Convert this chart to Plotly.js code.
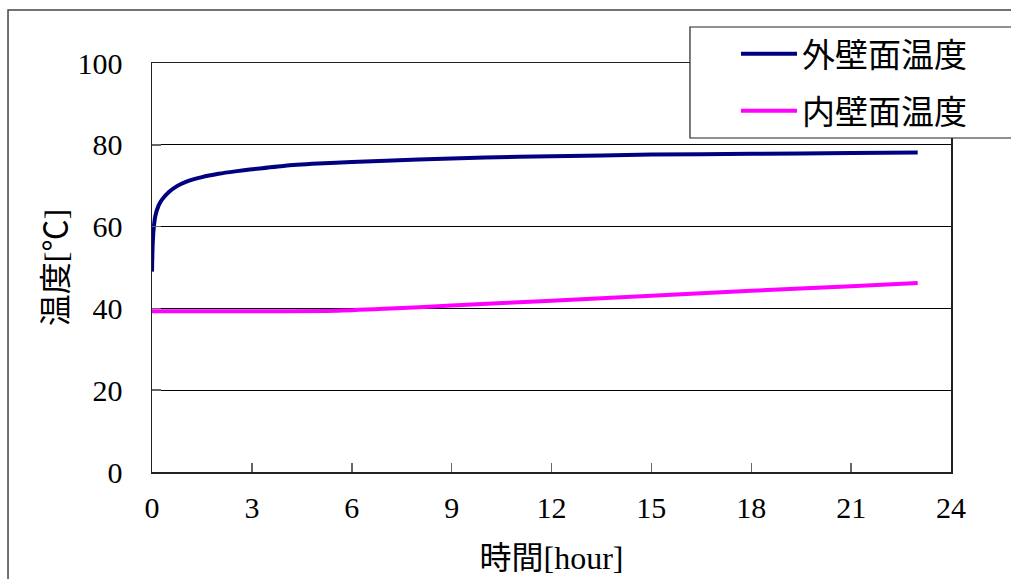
<!DOCTYPE html>
<html>
<head>
<meta charset="utf-8">
<script src="https://cdn.plot.ly/plotly-3.0.1.min.js"></script>
<style>html,body{margin:0;padding:0;background:#fff;}#chart{width:1011px;height:579px;}</style>
</head>
<body>
<div id="chart"></div>
<script>
// Data
const outerHours = [0, 0.02, 0.05, 0.1, 0.2, 0.3, 0.5, 0.75, 1, 1.5, 2, 2.5, 3, 4, 5, 6, 8, 10, 12, 15, 18, 21, 23];
const outerTemp  = [49, 55.5, 59.5, 62.6, 65.2, 66.6, 68.4, 69.9, 70.9, 72.1, 72.9, 73.5, 74.0, 74.9, 75.4, 75.8, 76.4, 76.9, 77.2, 77.6, 77.8, 78.0, 78.1];
const innerHours = [0, 2, 4, 5.5, 7, 9, 12, 15, 18, 21, 23];
const innerTemp  = [39.3, 39.3, 39.3, 39.4, 39.9, 40.7, 41.9, 43.1, 44.3, 45.4, 46.2];
const seriesNames = ['外壁面温度', '内壁面温度'];
const xTicks = [0, 3, 6, 9, 12, 15, 18, 21, 24];
const yTicks = [0, 20, 40, 60, 80, 100];
const xTitle = '時間[hour]';
const yTitle = '温度[℃]';

const FONT = "'Liberation Serif', 'Noto Sans CJK JP', serif";

const traces = [
  {x: outerHours, y: outerTemp, name: seriesNames[0], type: 'scatter', mode: 'lines',
   line: {color: '#000080', width: 4, shape: 'spline', smoothing: 0.6}, legendgroup: 'a'},
  {x: innerHours, y: innerTemp, name: seriesNames[1], type: 'scatter', mode: 'lines',
   line: {color: '#FF00FF', width: 4, shape: 'spline', smoothing: 0.6}, legendgroup: 'b'}
];

const layout = {
  width: 1011, height: 579,
  paper_bgcolor: '#fff', plot_bgcolor: '#fff',
  margin: {l: 152, r: 60, t: 63, b: 107, pad: 0},
  font: {family: FONT, size: 30, color: '#000'},
  showlegend: true,
  legend: {
    x: 0.7309, y: 1.091, xanchor: 'left', yanchor: 'top',
    bgcolor: 'rgba(0,0,0,0)', borderwidth: 0,
    font: {family: FONT, size: 33, color: '#000'},
    itemwidth: 56, tracegroupgap: 11
  },
  xaxis: {
    range: [0, 24], tickvals: xTicks, ticktext: xTicks.map(String),
    showgrid: false, zeroline: false,
    showline: true, linecolor: '#222', linewidth: 1.5, mirror: true,
    ticks: 'inside', ticklen: 9, tickcolor: '#666', tickwidth: 1.5,
    ticklabelstandoff: 8,
    tickfont: {family: FONT, size: 30, color: '#000'},
    title: {text: xTitle, font: {family: FONT, size: 32, color: '#000'}, standoff: 24},
    automargin: false
  },
  yaxis: {
    range: [0, 100], tickvals: yTicks, ticktext: yTicks.map(String),
    showgrid: true, gridcolor: '#000', gridwidth: 1, zeroline: false,
    showline: true, linecolor: '#222', linewidth: 1.5, mirror: true,
    ticks: 'inside', ticklen: 9, tickcolor: '#666', tickwidth: 1.5,
    ticklabelstandoff: 22,
    tickfont: {family: FONT, size: 30, color: '#000'},
    title: {text: yTitle, font: {family: FONT, size: 32, color: '#000'}, standoff: 0},
    automargin: false
  },
  shapes: [
    {type: 'rect', xref: 'paper', yref: 'paper', x0: -0.1802, x1: 1.09, y0: -0.3, y1: 1.1296,
     line: {color: '#444', width: 1.5}, fillcolor: 'rgba(0,0,0,0)', layer: 'below'},
    {type: 'rect', xref: 'paper', yref: 'paper', x0: 0.6733, x1: 1.09, y0: 0.8166, y1: 1.088,
     line: {color: '#222', width: 1.2}, fillcolor: '#fff', layer: 'above'}
  ]
};

Plotly.newPlot('chart', traces, layout, {displayModeBar: false, staticPlot: true});
</script>
</body>
</html>
